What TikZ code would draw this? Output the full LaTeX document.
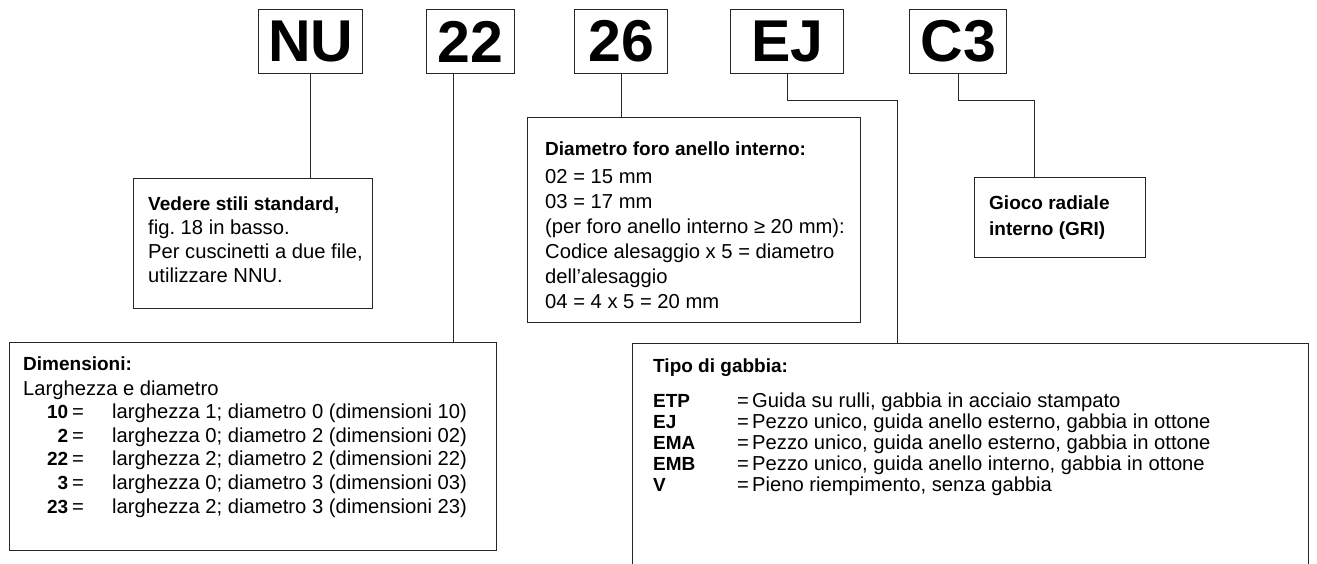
\documentclass[tikz,border=0pt]{standalone}
\usepackage{fontspec}
\setmainfont{Liberation Sans}
\frenchspacing
\newcommand{\B}[1]{{\fontsize{19}{19}\selectfont\bfseries #1}}
\newcommand{\R}{\fontsize{20.2}{20.2}\selectfont}
\tikzset{
  box/.style={draw=black!85, line width=1.3pt, inner sep=0pt, anchor=north west},
  codebox/.style={box, font=\fontsize{59}{59}\selectfont\bfseries},
  conn/.style={draw=black!85, line width=1pt},
  txt/.style={anchor=base west, inner sep=0pt}
}
\begin{document}
\begin{tikzpicture}[x=1pt,y=-1pt]
\clip (0,0) rectangle (1317,563);
\fill[white] (0,0) rectangle (1317,563);
% code boxes
\node[codebox, minimum width=104pt, minimum height=64pt] (nu) at (258,9) {NU};
\node[codebox, minimum width=88pt, minimum height=64pt] (n22) at (426,9) {22};
\node[codebox, minimum width=93pt, minimum height=64pt] (n26) at (574,9) {26};
\node[codebox, minimum width=113pt, minimum height=64pt] (ej) at (730,9) {EJ};
\node[codebox, minimum width=97pt, minimum height=64pt] (c3) at (909,9) {C3};
% description boxes
\node[box, minimum width=239pt, minimum height=130pt] (ved) at (133,178) {};
\node[box, minimum width=333pt, minimum height=205pt] (dia) at (527,117) {};
\node[box, minimum width=171pt, minimum height=80pt] (gri) at (974,177) {};
\node[box, minimum width=487pt, minimum height=208pt] (dim) at (9,342) {};
\node[box, minimum width=676pt, minimum height=300pt] (tipo) at (632,343) {};
% texts
\node[txt] (vedT) at (148,210) {\parbox[t]{300pt}{\R\baselineskip=24pt
  \B{Vedere stili standard,}\\
  fig. 18 in basso.\\
  Per cuscinetti a due file,\\
  utilizzare NNU.}};
\node[txt] (diaT) at (545,155) {\parbox[t]{320pt}{\R\baselineskip=25pt
  \B{Diametro foro anello interno:}\\[3pt]
  02 = 15 mm\\
  03 = 17 mm\\
  (per foro anello interno ≥ 20 mm):\\
  Codice alesaggio x 5 = diametro\\
  dell’alesaggio\\
  04 = 4 x 5 = 20 mm}};
\node[txt] (griT) at (989,209) {\parbox[t]{160pt}{\fontsize{19}{26}\selectfont\bfseries
  Gioco radiale\\
  interno (GRI)}};
\node[txt] (dimT) at (23,370) {\parbox[t]{470pt}{\R\baselineskip=23.6pt
  \B{Dimensioni:}\\[1.4pt]
  Larghezza e diametro\\
  \makebox[45pt][r]{\B{10}}\makebox[44pt][l]{\hspace{4pt}=}larghezza 1; diametro 0 (dimensioni 10)\\
  \makebox[45pt][r]{\B{2}}\makebox[44pt][l]{\hspace{4pt}=}larghezza 0; diametro 2 (dimensioni 02)\\
  \makebox[45pt][r]{\B{22}}\makebox[44pt][l]{\hspace{4pt}=}larghezza 2; diametro 2 (dimensioni 22)\\
  \makebox[45pt][r]{\B{3}}\makebox[44pt][l]{\hspace{4pt}=}larghezza 0; diametro 3 (dimensioni 03)\\
  \makebox[45pt][r]{\B{23}}\makebox[44pt][l]{\hspace{4pt}=}larghezza 2; diametro 3 (dimensioni 23)}};
\node[txt] (tipoT) at (653,372) {\parbox[t]{640pt}{\R\baselineskip=21.2pt
  \B{Tipo di gabbia:}\\[13.8pt]
  \makebox[84pt][l]{\B{ETP}}\makebox[15pt][l]{=}Guida su rulli, gabbia in acciaio stampato\\
  \makebox[84pt][l]{\B{EJ}}\makebox[15pt][l]{=}Pezzo unico, guida anello esterno, gabbia in ottone\\
  \makebox[84pt][l]{\B{EMA}}\makebox[15pt][l]{=}Pezzo unico, guida anello esterno, gabbia in ottone\\
  \makebox[84pt][l]{\B{EMB}}\makebox[15pt][l]{=}Pezzo unico, guida anello interno, gabbia in ottone\\
  \makebox[84pt][l]{\B{V}}\makebox[15pt][l]{=}Pieno riempimento, senza gabbia}};
% connectors
\coordinate (a22) at (453,73);
\coordinate (ejk) at (897,100);
\coordinate (c3k) at (1034,100);
\draw[conn] (nu.south) -- (nu.south |- ved.north);
\draw[conn] (a22) -- (a22 |- dim.north);
\draw[conn] (n26.south) -- (n26.south |- dia.north);
\draw[conn] (ej.south) |- (ejk) -- (ejk |- tipo.north);
\draw[conn] (c3.south) |- (c3k) -- (c3k |- gri.north);
\end{tikzpicture}
\end{document}
